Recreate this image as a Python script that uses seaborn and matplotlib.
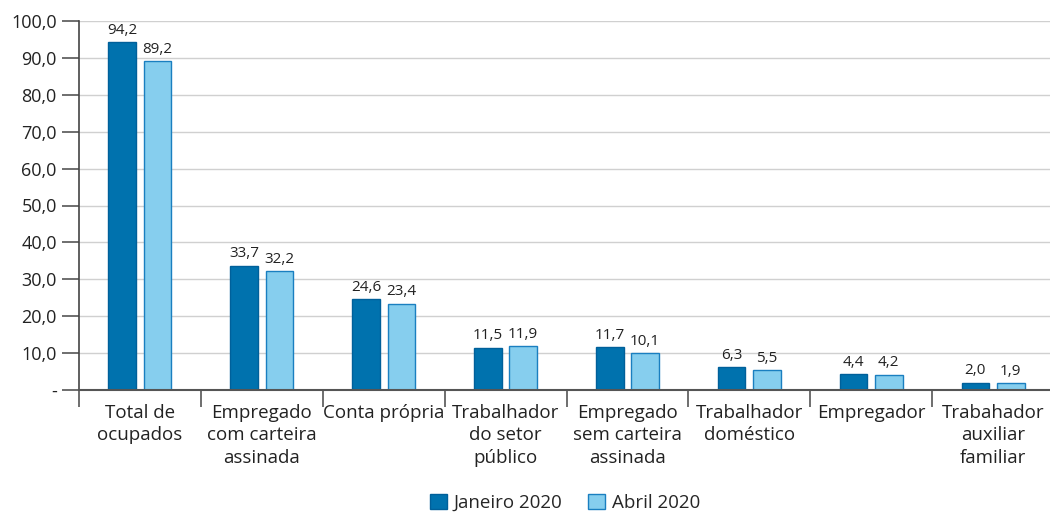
import matplotlib
matplotlib.use("Agg")
import matplotlib.pyplot as plt
import seaborn as sns
import pandas as pd
import numpy as np
from matplotlib.ticker import FixedLocator

categories = ["Total de\nocupados", "Empregado\ncom carteira\nassinada", "Conta própria",
              "Trabalhador\ndo setor\npúblico", "Empregado\nsem carteira\nassinada",
              "Trabalhador\ndoméstico", "Empregador", "Trabahador\nauxiliar\nfamiliar"]
jan_2020 = [94.2, 33.7, 24.6, 11.5, 11.7, 6.3, 4.4, 2.0]
abr_2020 = [89.2, 32.2, 23.4, 11.9, 10.1, 5.5, 4.2, 1.9]
series = ["Janeiro 2020", "Abril 2020"]
y_ticks = [0, 10, 20, 30, 40, 50, 60, 70, 80, 90, 100]
y_tick_labels = ["-"] + [f"{v:.1f}".replace(".", ",") for v in y_ticks[1:]]

df = pd.DataFrame({
    "cat": categories * 2,
    "serie": [series[0]] * len(categories) + [series[1]] * len(categories),
    "valor": jan_2020 + abr_2020,
})

sns.set_theme(style="white")
plt.rcParams["font.family"] = ["Open Sans", "DejaVu Sans"]

fig = plt.figure(figsize=(10.5, 5.12), dpi=100)
ax = fig.add_axes([79 / 1050, 1 - 390 / 512, (1054 - 79) / 1050, (390 - 21) / 512])

dark = "#0072AE"
light = "#86CEEE"
sns.barplot(data=df, x="cat", y="valor", hue="serie", hue_order=series,
            palette=[dark, light], saturation=1, width=0.58, gap=0.0, ax=ax, legend=True)

edge_cols = ["#00609A", "#1A7FC0"]
for i, cont in enumerate(ax.containers):
    for b in cont:
        b.set_edgecolor(edge_cols[i])
        b.set_linewidth(1.0)
        w = b.get_width()
        x = b.get_x()
        nw = w * 0.78
        b.set_x(x + (w - nw) * 0.5)
        b.set_width(nw)
    labels = [f"{v:.1f}".replace(".", ",") for v in (jan_2020 if i == 0 else abr_2020)]
    ax.bar_label(cont, labels=labels, padding=3, fontsize=11, color="#222222")

ax.set_xlim(-0.5, len(categories) - 0.5)
ax.set_ylim(0, 100)
ax.set_yticks(y_ticks)
ax.set_yticklabels(y_tick_labels, fontsize=13, color="#222222")
ax.yaxis.grid(True, color="#D0D0D0", linewidth=1.0)
ax.set_axisbelow(True)
ax.tick_params(axis="y", length=12, width=1.2, color="#555555", pad=4, left=True)

ax.set_xticks(range(len(categories)))
ax.set_xticklabels(categories, fontsize=13.5, color="#222222", linespacing=1.32)
ax.xaxis.set_minor_locator(FixedLocator(np.arange(-0.5, len(categories), 1.0)))
ax.tick_params(axis="x", which="major", length=0, pad=10)
ax.tick_params(axis="x", which="minor", length=12, width=1.2, color="#555555", bottom=True)

for s in ["top", "right"]:
    ax.spines[s].set_visible(False)
ax.spines["left"].set_color("#444444")
ax.spines["left"].set_linewidth(1.2)
ax.spines["bottom"].set_color("#555555")
ax.spines["bottom"].set_linewidth(1.5)
ax.set_xlabel("")
ax.set_ylabel("")

leg = ax.get_legend()
handles = leg.legend_handles
leg.remove()
for h, ec in zip(handles, edge_cols):
    h.set_edgecolor(ec)
fig.legend(handles, series, loc="center", bbox_to_anchor=(0.538, 1 - 503 / 512),
           ncol=2, frameon=False, fontsize=13.5, handlelength=0.9, handleheight=0.9,
           handletextpad=0.35, columnspacing=1.4, borderaxespad=0)

fig.savefig("out.png", dpi=100)
